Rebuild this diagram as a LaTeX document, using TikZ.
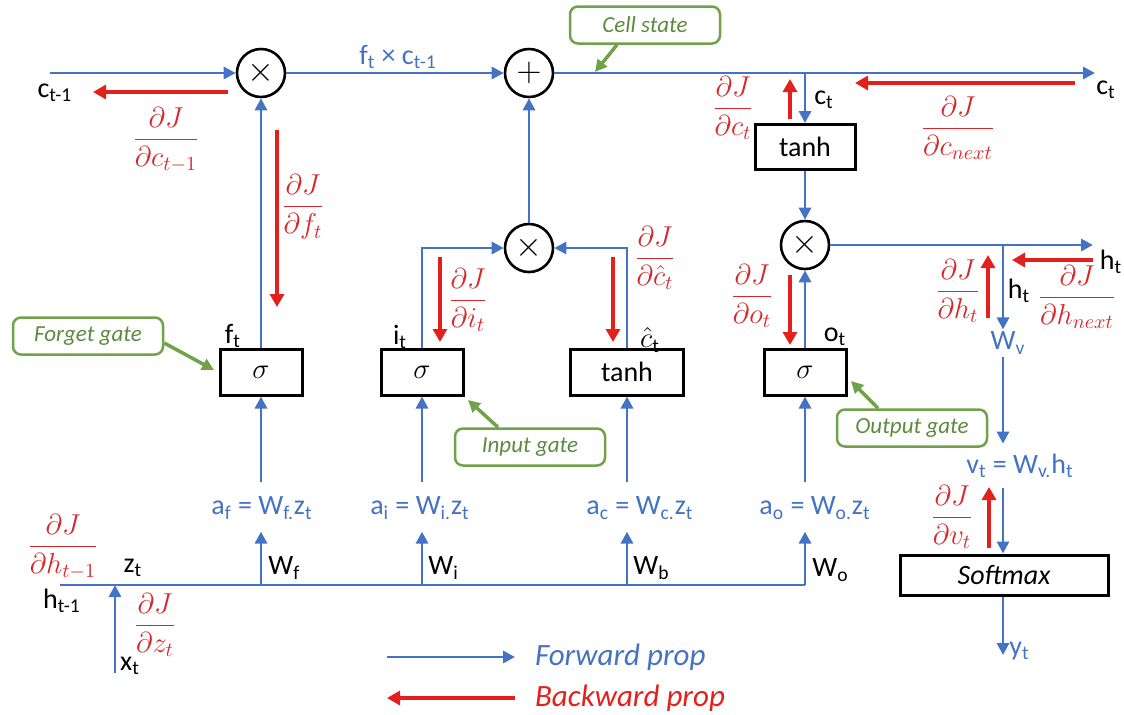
\documentclass[tikz,border=0pt]{standalone}
\usepackage{fontspec}
\setmainfont{Carlito}
\usepackage{amsmath}
\usetikzlibrary{arrows.meta,positioning,calc}
\definecolor{fwdblue}{HTML}{4472C4}
\definecolor{bwdred}{HTML}{E3211C}
\definecolor{gradred}{HTML}{D6282B}
\definecolor{noteline}{HTML}{70A24A}
\definecolor{notetext}{HTML}{5B8B3E}
\newcommand{\lblsize}{\fontsize{14}{16}\selectfont}

\tikzset{
  fwd/.style={fwdblue,line width=1.45pt,-{Triangle[length=6pt,width=6pt]}},
  fwdline/.style={fwdblue,line width=1.45pt},
  bwd/.style={bwdred,line width=1.6pt,-{Triangle[length=6.5pt,width=7pt]}},
  gatebox/.style={draw,line width=1.5pt,minimum width=41pt,minimum height=23pt,inner sep=0pt,font=\lblsize},
  opcirc/.style={circle,draw,line width=1.3pt,minimum size=24pt,inner sep=0pt,font=\fontsize{16}{18}\selectfont},
  note/.style={draw=noteline,line width=1.25pt,rounded corners=4pt,minimum width=75pt,minimum height=18.5pt,text=notetext,font=\fontsize{11.5}{13}\selectfont\itshape},
  pointer/.style={noteline,line width=1.75pt,-{Triangle[length=6pt,width=6pt]}},
  lbl/.style={font=\lblsize,inner sep=1pt},
  wlbl/.style={lbl,text=fwdblue},
  grad/.style={font=\lblsize,text=gradred,inner sep=0pt},
}

\begin{document}
\begin{tikzpicture}[x=0.5pt,y=-0.5pt]
  \useasboundingbox (0,0) rectangle (1124,714);

  % cell state line
  \node[opcirc] (mulf) at (261,73) {$\times$};
  \node[opcirc] (addc) at (529,73) {$+$};
  \coordinate (cprev) at (50,73);
  \coordinate (cnext) at (1095,73);
  \coordinate (ctap) at (805,73);
  \draw[fwd] (cprev) -- (mulf);
  \draw[fwd] (mulf) -- (addc);
  \draw[fwd] (addc) -- (cnext);
  \node[wlbl] (fclbl) at (398,57) {f\textsubscript{t} × c\textsubscript{t-1}};
  \node[lbl] (cprevlbl) at (55,93) {c\textsubscript{t-1}};
  \node[lbl] (cnextlbl) at (1106,90) {c\textsubscript{t}};
  \node[note] (cellnote) at (645,25) {Cell state};
  \coordinate (celltip) at (595,72);
  \draw[pointer] ([xshift=-14pt]cellnote.south) -- (celltip);

  % output gate and hidden state
  \node[gatebox,minimum width=50pt,minimum height=22.5pt] (tanho) at (805,147) {tanh};
  \node[opcirc] (mulo) at (805,245) {$\times$};
  \node[gatebox] (boxo) at (805,372) {$\sigma$};
  \draw[fwd] (ctap) -- (tanho);
  \draw[fwd] (tanho) -- (mulo);
  \draw[fwd] (boxo) -- (mulo);
  \coordinate (hnext) at (1093,245);
  \coordinate (htap) at (1003,245);
  \draw[fwd] (mulo) -- (hnext);
  \node[lbl] (ctlbl) at (824,100) {c\textsubscript{t}};
  \node[lbl] (htlbl) at (1111,262) {h\textsubscript{t}};
  \node[lbl] (htdown) at (1019,291) {h\textsubscript{t}};
  \node[lbl] (otlbl) at (835,337) {o\textsubscript{t}};
  \node[note] (outputnote) at (912,428) {Output gate};
  \coordinate (outputtip) at (851,381);
  \draw[pointer] ([xshift=-17pt]outputnote.north) -- (outputtip);

  % output layer
  \node[wlbl] (wv) at (1008,343) {W\textsubscript{v}};
  \draw[fwd] (htap) -- (htap |- wv.north);
  \node[wlbl] (vt) at (1020,466) {v\textsubscript{t} = W\textsubscript{v.}h\textsubscript{t}};
  \draw[fwd,shorten >=4pt] (wv.south -| htap) -- (vt.north -| htap);
  \node[gatebox,minimum width=104pt,minimum height=20pt,font=\lblsize\itshape] (soft) at (1004,575) {Softmax};
  \draw[fwd,shorten <=4pt] (vt.south -| htap) -- (soft.north -| htap);
  \coordinate (yend) at (1003,655);
  \draw[fwd] (soft.south -| yend) -- (yend);
  \node[wlbl,anchor=west] (yt) at (1007,651) {y\textsubscript{t}};

  % input gate and candidate
  \node[opcirc] (muli) at (529,248) {$\times$};
  \node[gatebox] (boxi) at (422,372) {$\sigma$};
  \node[gatebox,minimum width=56.5pt] (boxc) at (627,372) {tanh};
  \draw[fwd] (boxi.north) |- (muli);
  \draw[fwd] (boxc.north) |- (muli);
  \draw[fwd] (muli) -- (addc);
  \node[lbl] (itlbl) at (400,337) {i\textsubscript{t}};
  \node[lbl] (chatlbl) at (650,340) {$\hat{c}$\textsubscript{t}};
  \node[note] (inputnote) at (530,447) {Input gate};
  \coordinate (inputtip) at (468,400);
  \draw[pointer] ([xshift=-16pt]inputnote.north) -- (inputtip);

  % forget gate
  \node[gatebox] (boxf) at (261,372) {$\sigma$};
  \draw[fwd] (boxf) -- (mulf);
  \node[lbl] (ftlbl) at (233,336) {f\textsubscript{t}};
  \node[note] (forgetnote) at (88,336) {Forget gate};
  \coordinate (forgettip) at (214,370);
  \draw[pointer] ([yshift=-3.5pt]forgetnote.east) -- (forgettip);

  % pre-activations and the z_t bus
  \node[wlbl] (af) at (262,508) {a\textsubscript{f} = W\textsubscript{f.}z\textsubscript{t}};
  \node[wlbl] (ai) at (420,508) {a\textsubscript{i} = W\textsubscript{i.}z\textsubscript{t}};
  \node[wlbl] (ac) at (640,508) {a\textsubscript{c} = W\textsubscript{c.}z\textsubscript{t}};
  \node[wlbl] (ao) at (815,508) {a\textsubscript{o} = W\textsubscript{o.}z\textsubscript{t}};
  \coordinate (hprev) at (60,585);
  \coordinate (busf) at (261,585);
  \coordinate (busi) at (422,585);
  \coordinate (busc) at (627,585);
  \coordinate (buso) at (805,585);
  \draw[fwdline] (hprev) -- (buso);
  \foreach \g in {f,i,c,o}{
    \draw[fwd,shorten >=5pt] (bus\g) -- (a\g.south -| bus\g);
    \draw[fwd,shorten <=6pt] (a\g.north -| box\g) -- (box\g);
  }
  \node[lbl,anchor=west] (wflbl) at (266,568) {W\textsubscript{f}};
  \node[lbl,anchor=west] (wilbl) at (426,568) {W\textsubscript{i}};
  \node[lbl,anchor=west] (wblbl) at (631,568) {W\textsubscript{b}};
  \node[lbl,anchor=west] (wolbl) at (810,570) {W\textsubscript{o}};
  \node[lbl] (ztlbl) at (133,568) {z\textsubscript{t}};
  \node[lbl] (hprevlbl) at (62,601) {h\textsubscript{t-1}};
  \node[lbl] (xtlbl) at (130,666) {x\textsubscript{t}};
  \coordinate (xin) at (115,673);
  \coordinate (xjoin) at (115,585);
  \draw[fwd] (xin) -- (xjoin);

  % backward gradients
  \node[grad] (gcprev) at (166,140) {$\dfrac{\partial J}{\partial c_{t-1}}$};
  \node[grad] (gf) at (303,207) {$\dfrac{\partial J}{\partial f_t}$};
  \node[grad] (gct) at (733,108) {$\dfrac{\partial J}{\partial c_t}$};
  \node[grad] (gcnext) at (958,128) {$\dfrac{\partial J}{\partial c_{next}}$};
  \node[grad] (gi) at (468,300) {$\dfrac{\partial J}{\partial i_t}$};
  \node[grad] (gchat) at (655,258) {$\dfrac{\partial J}{\partial \hat{c}_t}$};
  \node[grad] (go) at (752,296) {$\dfrac{\partial J}{\partial o_t}$};
  \node[grad] (ght) at (958,291) {$\dfrac{\partial J}{\partial h_t}$};
  \node[grad] (ghnext) at (1077,297) {$\dfrac{\partial J}{\partial h_{next}}$};
  \node[grad] (gv) at (952,517) {$\dfrac{\partial J}{\partial v_t}$};
  \node[grad] (ghprev) at (63,547) {$\dfrac{\partial J}{\partial h_{t-1}}$};
  \node[grad] (gz) at (155,625) {$\dfrac{\partial J}{\partial z_t}$};
  \coordinate (rc0) at (228,92);   \coordinate (rc1) at (93,92);
  \coordinate (rf0) at (277,130);  \coordinate (rf1) at (277,307);
  \coordinate (rn0) at (1075,83);  \coordinate (rn1) at (855,83);
  \coordinate (rt0) at (790,119);  \coordinate (rt1) at (790,79);
  \coordinate (ri0) at (440,257);  \coordinate (ri1) at (440,342);
  \coordinate (rh0) at (613,257);  \coordinate (rh1) at (613,342);
  \coordinate (ro0) at (790,275);  \coordinate (ro1) at (790,345);
  \coordinate (rk0) at (988,318);  \coordinate (rk1) at (988,255);
  \coordinate (rx0) at (1093,260); \coordinate (rx1) at (1012,260);
  \coordinate (rv0) at (989,548);  \coordinate (rv1) at (989,487);
  \foreach \r in {rc,rf,rn,rt,ri,rh,ro,rk,rx,rv}
    \draw[bwd] (\r0) -- (\r1);

  % legend
  \coordinate (lgf0) at (387,657); \coordinate (lgf1) at (515,657);
  \coordinate (lgb0) at (515,698); \coordinate (lgb1) at (387,698);
  \draw[fwd] (lgf0) -- (lgf1);
  \draw[bwd] (lgb0) -- (lgb1);
  \node[anchor=west,text=fwdblue,font=\fontsize{15.5}{18}\selectfont\itshape] (fwdlbl) at (528,657) {Forward prop};
  \node[anchor=west,text=bwdred,font=\fontsize{15.5}{18}\selectfont\itshape] (bwdlbl) at (528,698) {Backward prop};
\end{tikzpicture}
\end{document}
